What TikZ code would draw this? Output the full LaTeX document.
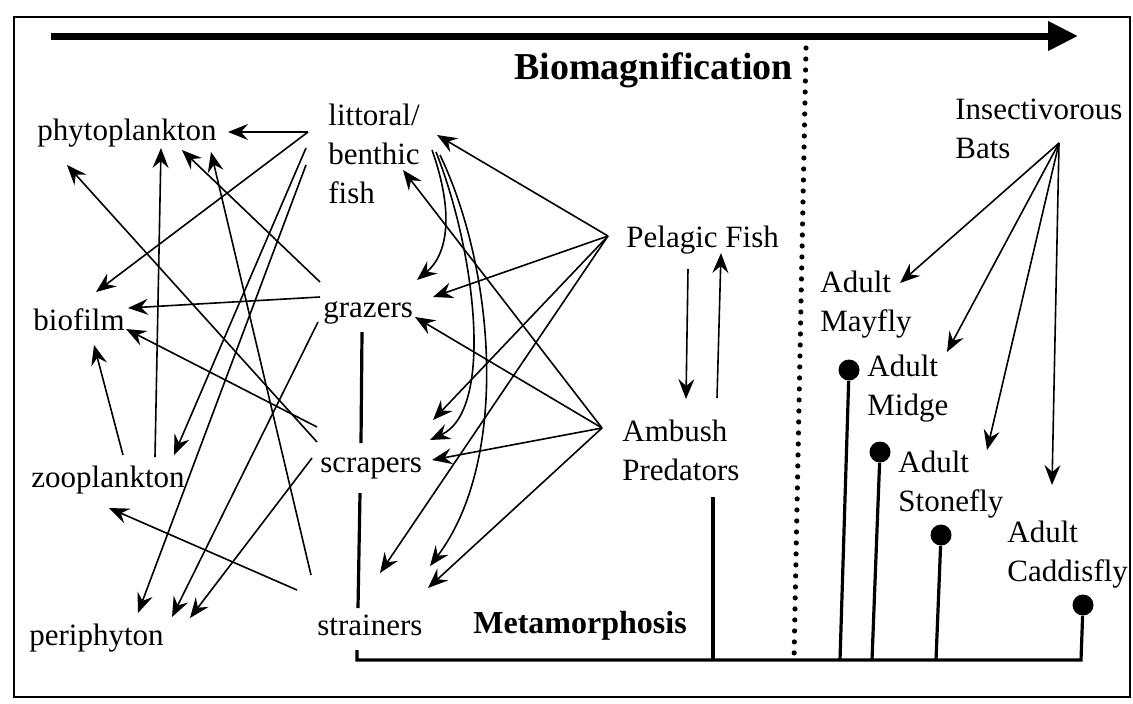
\documentclass[tikz,border=0pt]{standalone}
\usepackage{fontspec}
\setmainfont{Liberation Serif}
\usetikzlibrary{arrows.meta}

\begin{document}
\begin{tikzpicture}[x=0.5pt, y=-0.5pt,
        font=\fontsize{15.5}{19.5}\selectfont,
        lbl/.style={anchor=west, inner sep=0pt, align=left},
        feed/.style={line width=0.8pt, -{Stealth[length=10pt, width=8pt, inset=3.5pt]}},
        stem/.style={line width=1.6pt},
        dot/.style={circle, fill, inner sep=0pt, minimum size=10.5pt}]
        \useasboundingbox (0,0) rectangle (1133,703);

        % Frame
        \draw[line width=1pt] (14,17) rectangle (1130,697);

        % Biomagnification arrow and divider
        \coordinate (bm-s) at (51,36);
        \coordinate (bm-e) at (1078,36);
        \draw[line width=3.5pt, -{Triangle[length=15pt, width=14pt]}] (bm-s) -- (bm-e);
        \node[lbl, font=\fontsize{19}{21}\selectfont\bfseries] (biomag) at (514,70) {Biomagnification};
        \coordinate (dv-t) at (806,48);
        \coordinate (dv-b) at (794,660);
        \draw[line width=2.6pt, line cap=round, dash pattern=on 0pt off 5.5pt] (dv-t) -- (dv-b);

        % Producers
        \node[lbl] (phyto) at (37,133) {phytoplankton};
        \node[lbl] (biofilm) at (33,320) {biofilm};
        \node[lbl] (zoo) at (31,480) {zooplankton};
        \node[lbl] (peri) at (29,638) {periphyton};

        % Consumers
        \node[lbl] (littoral) at (328,154) {littoral/\\benthic\\fish};
        \node[lbl] (grazers) at (323,313) {grazers};
        \node[lbl] (scrapers) at (320,468) {scrapers};
        \node[lbl] (strainers) at (317,625) {strainers};
        \node[lbl, font=\fontsize{16}{18}\selectfont\bfseries] (meta) at (473,626) {Metamorphosis};
        \node[lbl] (pelagic) at (626,240) {Pelagic Fish};
        \node[lbl] (ambush) at (622,450) {Ambush\\Predators};

        % Terrestrial side
        \node[lbl] (bats) at (955,129) {Insectivorous\\Bats};
        \node[lbl] (mayfly) at (820,305) {Adult\\Mayfly};
        \node[lbl] (midge) at (867,389) {Adult\\Midge};
        \node[lbl] (stonefly) at (898,485) {Adult\\Stonefly};
        \node[lbl] (caddis) at (1007,555) {Adult\\Caddisfly};
        \node[dot] (mayfly-dot) at (849,370) {};
        \node[dot] (midge-dot) at (880,452) {};
        \node[dot] (stone-dot) at (941,535) {};
        \node[dot] (caddis-dot) at (1083,605) {};

        % Ports
        \coordinate (lit-w0) at (308,132);
        \coordinate (lit-w1) at (306,148);
        \coordinate (lit-w2) at (306,165);
        \coordinate (lit-e0) at (432,150);
        \coordinate (lit-e1) at (436,152);
        \coordinate (lit-e2) at (440,155);
        \coordinate (lit-in) at (437,135);
        \coordinate (ben-in) at (403,170);
        \coordinate (phy-e) at (228,132);
        \coordinate (phy-s1) at (67,165);
        \coordinate (phy-s2) at (161,148);
        \coordinate (phy-s3) at (182,150);
        \coordinate (phy-s4) at (211,152);
        \coordinate (bio-n) at (96,292);
        \coordinate (bio-e1) at (128,308);
        \coordinate (bio-e2) at (126,329);
        \coordinate (bio-s) at (94,345);
        \coordinate (zoo-n1) at (123,455);
        \coordinate (zoo-n2) at (155,457);
        \coordinate (zoo-in) at (174,455);
        \coordinate (zoo-e) at (109,508);
        \coordinate (per-1) at (138,613);
        \coordinate (per-2) at (172,617);
        \coordinate (per-3) at (190,618);
        \coordinate (gz-w1) at (320,282);
        \coordinate (gz-w2) at (320,297);
        \coordinate (gz-w3) at (318,322);
        \coordinate (gz-in1) at (417,280);
        \coordinate (gz-in2) at (433,297);
        \coordinate (gz-in3) at (415,317);
        \coordinate (gz-s) at (362,332);
        \coordinate (sc-w1) at (317,427);
        \coordinate (sc-w2) at (317,442);
        \coordinate (sc-w3) at (312,458);
        \coordinate (sc-in1) at (433,420);
        \coordinate (sc-in2) at (430,440);
        \coordinate (sc-in3) at (432,460);
        \coordinate (sc-n) at (361,443);
        \coordinate (sc-s) at (360,493);
        \coordinate (st-w1) at (311,575);
        \coordinate (st-w2) at (297,590);
        \coordinate (st-in1) at (380,573);
        \coordinate (st-in2) at (430,566);
        \coordinate (st-in3) at (428,588);
        \coordinate (st-n) at (358,608);
        \coordinate (st-s) at (357,650);
        \coordinate (pel-out) at (608,236);
        \coordinate (amb-out) at (602,428);
        \coordinate (pa-t) at (688,269);
        \coordinate (pa-b) at (686,399);
        \coordinate (ap-b) at (717,398);
        \coordinate (ap-t) at (721,253);
        \coordinate (amb-s) at (713,497);
        \coordinate (bat-out) at (1059,143);
        \coordinate (may-in) at (900,283);
        \coordinate (mid-in) at (947,352);
        \coordinate (sto-in) at (987,450);
        \coordinate (cad-in) at (1052,485);
        \coordinate (amb-b) at (713,660);
        \coordinate (may-b) at (840,660);
        \coordinate (mid-b) at (872,660);
        \coordinate (sto-b) at (936,660);
        \coordinate (cad-b) at (1081,660);

        % Littoral fish feeding
        \draw[feed] (lit-w0) -- (phy-e);
        \draw[feed] (lit-w0) -- (bio-n);
        \draw[feed] (lit-w1) -- (zoo-in);
        \draw[feed] (lit-w2) -- (per-1);
        \draw[feed] (lit-e0) .. controls (455,215) and (447,255) .. (gz-in1);
        \draw[feed] (lit-e1) .. controls (475,250) and (495,410) .. (sc-in2);
        \draw[feed] (lit-e2) .. controls (495,270) and (510,460) .. (st-in2);

        % Invertebrates and zooplankton feeding
        \draw[feed] (gz-w1) -- (phy-s3);
        \draw[feed] (gz-w2) -- (bio-e1);
        \draw[feed] (gz-w3) -- (per-2);
        \draw[feed] (sc-w1) -- (bio-e2);
        \draw[feed] (sc-w2) -- (phy-s1);
        \draw[feed] (sc-w3) -- (per-3);
        \draw[feed] (st-w1) -- (phy-s4);
        \draw[feed] (st-w2) -- (zoo-e);
        \draw[feed] (zoo-n1) -- (bio-s);
        \draw[feed] (zoo-n2) -- (phy-s2);

        % Pelagic fish and ambush predators
        \draw[feed] (pel-out) -- (lit-in);
        \draw[feed] (pel-out) -- (gz-in2);
        \draw[feed] (pel-out) -- (sc-in1);
        \draw[feed] (pel-out) -- (st-in1);
        \draw[feed] (amb-out) -- (ben-in);
        \draw[feed] (amb-out) -- (gz-in3);
        \draw[feed] (amb-out) -- (sc-in3);
        \draw[feed] (amb-out) -- (st-in3);
        \draw[feed] (pa-t) -- (pa-b);
        \draw[feed] (ap-b) -- (ap-t);

        % Bats
        \draw[feed] (bat-out) -- (may-in);
        \draw[feed] (bat-out) -- (mid-in);
        \draw[feed] (bat-out) -- (sto-in);
        \draw[feed] (bat-out) -- (cad-in);

        % Metamorphosis line
        \draw[stem] (gz-s) -- (sc-n);
        \draw[stem] (sc-s) -- (st-n);
        \draw[stem] (st-s) |- (cad-b) -- (caddis-dot);
        \draw[stem] (amb-s) -- (amb-b);
        \draw[stem] (mayfly-dot) -- (may-b);
        \draw[stem] (midge-dot) -- (mid-b);
        \draw[stem] (stone-dot) -- (sto-b);
    \end{tikzpicture}
\end{document}
